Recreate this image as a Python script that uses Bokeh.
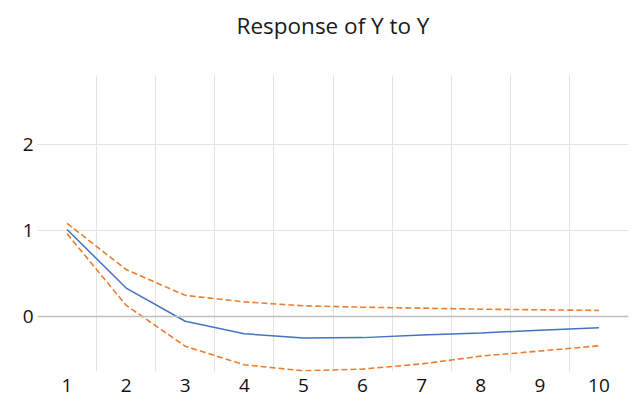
from bokeh.plotting import figure
from bokeh.models import FixedTicker, Range1d, Span, LinearAxis
from bokeh.embed import file_html
from bokeh.resources import INLINE

title_text = "Response of Y to Y"
periods = [1, 2, 3, 4, 5, 6, 7, 8, 9, 10]
response = [1.01, 0.33, -0.055, -0.20, -0.25, -0.245, -0.215, -0.19, -0.16, -0.13]
upper = [1.08, 0.545, 0.245, 0.17, 0.124, 0.108, 0.097, 0.085, 0.078, 0.07]
lower = [0.96, 0.13, -0.345, -0.56, -0.63, -0.61, -0.55, -0.46, -0.40, -0.34]
y_ticks = [0, 1, 2]

FONT = "Open Sans"

p = figure(width=638, height=404, output_backend="svg", toolbar_location=None,
           x_range=Range1d(0.5, 10.5), y_range=Range1d(-0.638, 2.796),
           min_border_left=37, min_border_right=10, min_border_top=75, min_border_bottom=33)
p.outline_line_color = None
p.background_fill_color = "white"
p.border_fill_color = "white"

xax = p.below[0]
yax = p.left[0]

# axes
for ax in (xax, yax):
    ax.axis_line_color = None
    ax.major_tick_line_color = None
    ax.minor_tick_line_color = None
    ax.major_tick_out = 0
    ax.major_label_text_font = FONT
    ax.major_label_text_font_size = "19px"
    ax.major_label_text_color = "#111111"
xax.ticker = FixedTicker(ticks=periods)
yax.ticker = FixedTicker(ticks=y_ticks)
xax.major_label_standoff = 7
yax.major_label_standoff = 4

# chart title, drawn as the label of a bare axis above the plot area
top = LinearAxis(ticker=FixedTicker(ticks=[]), axis_label=title_text,
                 axis_line_color=None, major_tick_line_color=None, minor_tick_line_color=None,
                 major_tick_out=0, major_tick_in=0, major_label_standoff=0, axis_label_standoff=35,
                 axis_label_text_font=FONT, axis_label_text_font_size="22.5px",
                 axis_label_text_font_style="normal", axis_label_text_color="#1a1a1a")
p.add_layout(top, "above")

# grids
p.xgrid[0].ticker = FixedTicker(ticks=[i + 0.5 for i in periods[:-1]])
p.xgrid[0].grid_line_color = "#E3E3E3"
p.ygrid[0].ticker = FixedTicker(ticks=[t for t in y_ticks if t != 0])
p.ygrid[0].grid_line_color = "#E3E3E3"
p.add_layout(Span(location=0, dimension="width", line_color="#BFBFBF", line_width=1.3))

p.line(periods, upper, line_color="#ED7D31", line_width=1.6, line_dash="6 3")
p.line(periods, lower, line_color="#ED7D31", line_width=1.6, line_dash="6 3")
p.line(periods, response, line_color="#4472C4", line_width=1.5)

open("out.html", "w").write(file_html(p, INLINE))
